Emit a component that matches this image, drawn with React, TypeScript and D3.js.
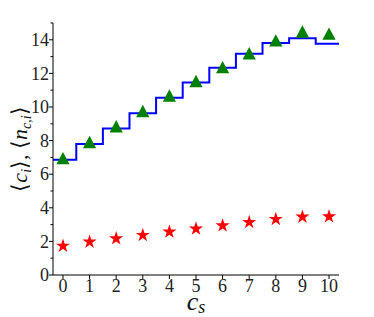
import React, { useEffect, useRef } from 'react';
import * as d3 from 'd3';

// c_s values on the x axis
const csValues = [0, 1, 2, 3, 4, 5, 6, 7, 8, 9, 10];
// blue step line
const stepValues = [6.86, 7.8, 8.72, 9.63, 10.55, 11.46, 12.34, 13.17, 13.81, 14.09, 13.77];
// green triangles <n_{c,i}>
const triValues = [6.95, 7.91, 8.85, 9.76, 10.68, 11.54, 12.37, 13.19, 13.96, 14.49, 14.36];
// red stars <c_i>
const starValues = [1.73, 1.97, 2.17, 2.37, 2.57, 2.75, 2.94, 3.14, 3.32, 3.46, 3.48];

const yMajorTicks = [0, 2, 4, 6, 8, 10, 12, 14];
const yMinorTicks = [1, 3, 5, 7, 9, 11, 13, 15];

const W = 374;
const H = 317;
const FONT = 'Liberation Serif';

const App: React.FC = () => {
  const svgRef = useRef<SVGSVGElement | null>(null);

  useEffect(() => {
    if (!svgRef.current) return;
    const svg = d3.select(svgRef.current);
    svg.selectAll('*').remove();

    const x = d3.scaleLinear().domain([-0.375, 10.375]).range([53, 339]);
    const y = d3.scaleLinear().domain([0, 15]).range([275, 23]);
    const [x0, x1] = x.domain();

    // step line, transitions half way between points
    const stepPts: [number, number][] = [[x0, stepValues[0]]];
    csValues.slice(1).forEach((c, i) => stepPts.push([c - 0.5, stepValues[i + 1]]));
    stepPts.push([x1, stepValues[stepValues.length - 1]]);

    const line = d3.line<[number, number]>()
      .x((d) => x(d[0]))
      .y((d) => y(d[1]))
      .curve(d3.curveStepAfter);

    svg.append('path')
      .datum(stepPts)
      .attr('fill', 'none')
      .attr('stroke', '#0000ff')
      .attr('stroke-width', 2)
      .attr('d', line);

    // triangles
    svg.append('g')
      .selectAll('path')
      .data(triValues)
      .join('path')
      .attr('transform', (d, i) => `translate(${x(csValues[i])},${y(d)})`)
      .attr('d', 'M0,-6.3L6.6,6.1L-6.6,6.1Z')
      .attr('fill', '#008000');

    // stars
    const star = d3.symbol().type(d3.symbolStar).size(62);
    svg.append('g')
      .selectAll('path')
      .data(starValues)
      .join('path')
      .attr('transform', (d, i) => `translate(${x(csValues[i])},${y(d)})`)
      .attr('d', star()!)
      .attr('fill', '#ff0000');

    // y axis
    const yAxis = svg.append('g').attr('transform', `translate(${x(x0)},0)`);
    yAxis.append('line')
      .attr('y1', y(0)).attr('y2', y(15))
      .attr('stroke', '#000').attr('stroke-width', 1);
    yAxis.selectAll('line.major')
      .data(yMajorTicks)
      .join('line')
      .attr('class', 'major')
      .attr('x1', -4).attr('x2', 0)
      .attr('y1', (d) => y(d)).attr('y2', (d) => y(d))
      .attr('stroke', '#000');
    yAxis.selectAll('line.minor')
      .data(yMinorTicks)
      .join('line')
      .attr('class', 'minor')
      .attr('x1', -2.5).attr('x2', 0)
      .attr('y1', (d) => y(d)).attr('y2', (d) => y(d))
      .attr('stroke', '#000');
    yAxis.selectAll('text')
      .data(yMajorTicks)
      .join('text')
      .attr('x', -4)
      .attr('y', (d) => y(d))
      .attr('dy', '0.34em')
      .attr('text-anchor', 'end')
      .style('font-family', FONT)
      .attr('font-size', 18)
      .attr('fill', '#222')
      .text((d) => d);

    // x axis
    const xAxis = svg.append('g').attr('transform', `translate(0,${y(0)})`);
    xAxis.append('line')
      .attr('x1', x(x0)).attr('x2', x(x1))
      .attr('stroke', '#000').attr('stroke-width', 1);
    xAxis.selectAll('line.tick')
      .data(csValues)
      .join('line')
      .attr('class', 'tick')
      .attr('x1', (d) => x(d)).attr('x2', (d) => x(d))
      .attr('y1', 0).attr('y2', 4)
      .attr('stroke', '#000');
    xAxis.selectAll('text')
      .data(csValues)
      .join('text')
      .attr('x', (d) => x(d))
      .attr('y', 17)
      .attr('text-anchor', 'middle')
      .style('font-family', FONT)
      .attr('font-size', 18)
      .attr('fill', '#222')
      .text((d) => d);

    // x label
    const xl = svg.append('text')
      .attr('x', (x(x0) + x(x1)) / 2)
      .attr('y', 310)
      .attr('text-anchor', 'middle')
      .style('font-family', FONT)
      .attr('font-size', 26)
      .attr('fill', '#111');
    xl.append('tspan').attr('font-style', 'italic').text('c');
    xl.append('tspan').attr('font-style', 'italic').attr('font-size', 18).attr('dy', 3).text('s');

    // y label
    const yl = svg.append('text')
      .attr('transform', `translate(27,${(y(0) + y(15)) / 2}) rotate(-90)`)
      .attr('text-anchor', 'middle')
      .style('font-family', FONT)
      .attr('font-size', 22)
      .attr('fill', '#111');
    yl.append('tspan').text('⟨');
    yl.append('tspan').attr('font-style', 'italic').text('c');
    yl.append('tspan').attr('font-style', 'italic').attr('font-size', 14).attr('dy', 4).text('i');
    yl.append('tspan').attr('dy', -4).text('⟩, ⟨');
    yl.append('tspan').attr('font-style', 'italic').text('n');
    yl.append('tspan').attr('font-style', 'italic').attr('font-size', 14).attr('dy', 4).text('c,i');
    yl.append('tspan').attr('dy', -4).text('⟩');
  }, []);

  return (
    <div style={{ position: 'absolute', left: 0, top: 0, width: W, height: H, background: '#fff' }}>
      <svg ref={svgRef} width={W} height={H} viewBox={`0 0 ${W} ${H}`} />
    </div>
  );
};

export default App;
